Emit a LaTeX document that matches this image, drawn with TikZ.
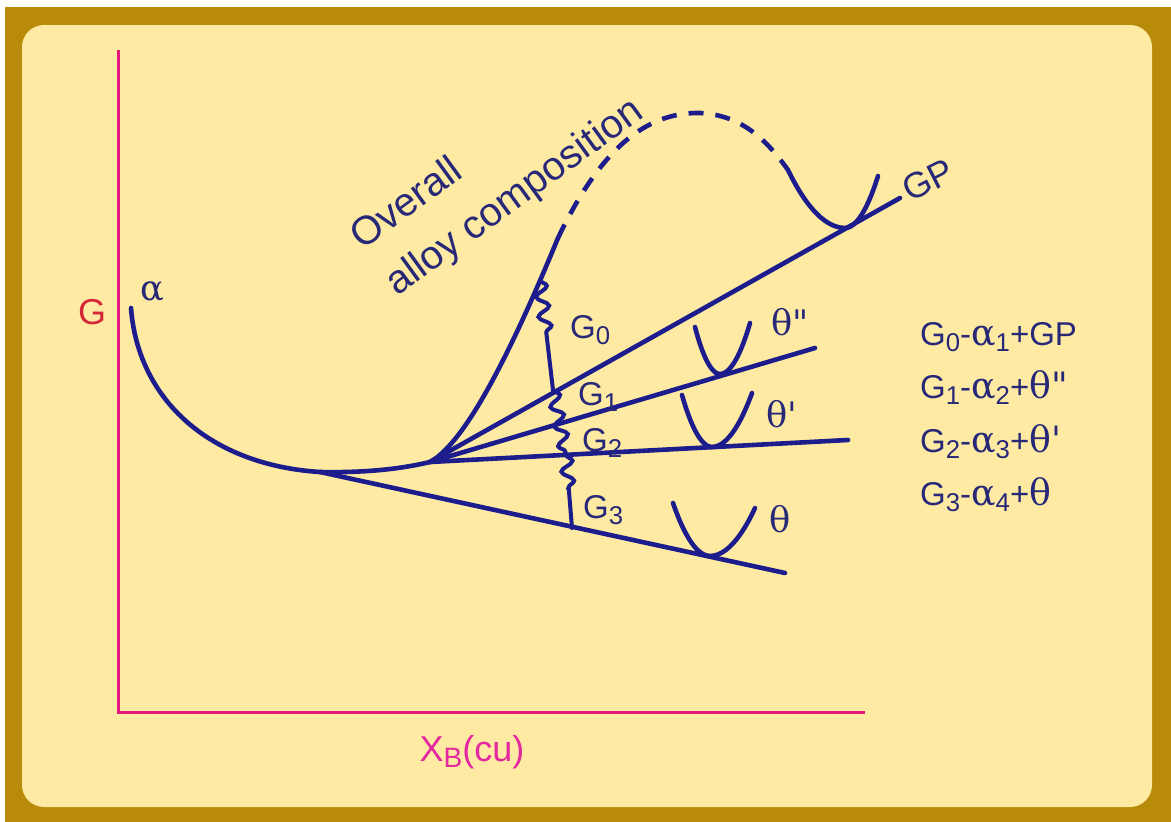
\documentclass[tikz,border=0pt]{standalone}
\usepackage{fontspec}
\setmainfont{Liberation Sans}
\newfontfamily\grk[Scale=1.1]{DejaVu Serif}
\usetikzlibrary{decorations.pathmorphing}
\definecolor{frame}{RGB}{184,140,10}
\definecolor{paper}{RGB}{254,234,163}
\definecolor{ink}{RGB}{28,28,140}
\definecolor{txt}{RGB}{40,40,120}
\definecolor{axiscol}{RGB}{226,24,122}
\definecolor{gcol}{RGB}{212,40,56}
\definecolor{xcol}{RGB}{228,40,160}
\newcommand{\gr}[1]{{\grk #1}}
\newcommand{\lo}[1]{\raisebox{-0.35ex}{\scalebox{0.78}{#1}}}

\begin{document}
\begin{tikzpicture}[x=1pt,y=-1pt,
  curve/.style={draw=ink, line width=4.6pt, line cap=round},
  axisline/.style={draw=axiscol, line width=3pt},
  lbl/.style={text=txt, inner sep=0pt, font=\fontsize{33}{38}\selectfont},
  greek/.style={text=txt, inner sep=0pt, font=\fontsize{32}{38}\selectfont\grk},
  wig/.style={curve, line width=4pt, decorate,
    decoration={snake, amplitude=6pt, segment length=20pt}}
]
\useasboundingbox (0,0) rectangle (1171,822);
\fill[white] (0,0) rectangle (1171,822);
\fill[frame] (5,7) rectangle (1171,822);
\fill[paper, rounded corners=22pt] (22,25) rectangle (1152,807);

% axes
\coordinate (O) at (118,712);
\coordinate (ytop) at (118,50);
\coordinate (xend) at (865,712);
\draw[axisline] (ytop) -- (O) -- (xend);

% alpha curve and the overall composition
\coordinate (a0) at (131,308);
\coordinate (T) at (320,472);
\coordinate (B) at (430,462);
\coordinate (C) at (558,238);
\coordinate (top) at (700,113);
\coordinate (gpL) at (788,170);
\draw[curve] (a0) .. controls (138,400) and (210,465) .. (T)
  .. controls (370,473) and (405,468) .. (B)
  .. controls (470,440) and (520,330) .. (C) coordinate[pos=0.85] (w0);
\draw[curve, line cap=butt, dash pattern=on 15pt off 12pt]
  (C) .. controls (600,150) and (645,112) .. (top)
  .. controls (745,115) and (770,145) .. (gpL);

% common tangents
\coordinate (eT) at (785,573);
\coordinate (eTp) at (848,440);
\coordinate (eTpp) at (815,348);
\coordinate (eGP) at (900,198);
\draw[curve] (T) -- (eT);
\draw[curve] (B) -- (eTp);
\draw[curve] (B) -- (eTpp);
\draw[curve] (B) -- (eGP);

% precipitate curves
\draw[curve] (gpL) parabola bend (845,228) (878,176);
\draw[curve] (695,327) parabola bend (720,374) (750,323);
\draw[curve] (682,395) parabola bend (712,447) (752,393);
\draw[curve] (673,503) parabola bend (710,556) (755,508);

% driving forces
\coordinate (g1) at (553,390);
\coordinate (g2) at (566,455);
\coordinate (g3) at (572,528);
\draw[wig, decoration={post length=50pt}] (w0) -- (g1);
\draw[wig] (g1) -- (g2);
\draw[wig, decoration={post length=36pt}] (g2) -- (g3);

% labels
\node[lbl, text=gcol, font=\fontsize{36}{40}\selectfont] (lblG) at (92,312) {G};
\node[greek] (lblAlpha) at (152,292) {α};
\node[lbl, text=xcol, font=\fontsize{36}{40}\selectfont] (lblX) at (472,752) {X\lo{B}(cu)};
\node[lbl, font=\fontsize{40}{46}\selectfont, rotate=36, anchor=base west] (lblOverall) at (362,251) {Overall};
\node[lbl, font=\fontsize{40}{46}\selectfont, rotate=36, anchor=base west] (lblAlloy) at (397,297) {alloy composition};
\node[lbl, font=\fontsize{36}{40}\selectfont, rotate=27] (lblGP) at (928,180) {GP};
\node[greek] (lblTpp) at (790,322) {θ\textquotedbl};
\node[greek] (lblTp) at (782,414) {θ\textquotesingle};
\node[greek] (lblT) at (780,519) {θ};
\node[lbl, anchor=west] (lblG0) at (570,330) {G\lo{0}};
\node[lbl, anchor=west] (lblG1) at (578,397) {G\lo{1}};
\node[lbl, anchor=west] (lblG2) at (582,443) {G\lo{2}};
\node[lbl, anchor=west] (lblG3) at (583,510) {G\lo{3}};
\node[lbl, anchor=base west] (eqG0) at (920,345) {G\lo{0}-\gr{α}\lo{1}+GP};
\node[lbl, anchor=base west] (eqG1) at (920,398) {G\lo{1}-\gr{α}\lo{2}+\gr{θ\textquotedbl}};
\node[lbl, anchor=base west] (eqG2) at (920,452) {G\lo{2}-\gr{α}\lo{3}+\gr{θ\textquotesingle}};
\node[lbl, anchor=base west] (eqG3) at (920,505) {G\lo{3}-\gr{α}\lo{4}+\gr{θ}};
\end{tikzpicture}
\end{document}
